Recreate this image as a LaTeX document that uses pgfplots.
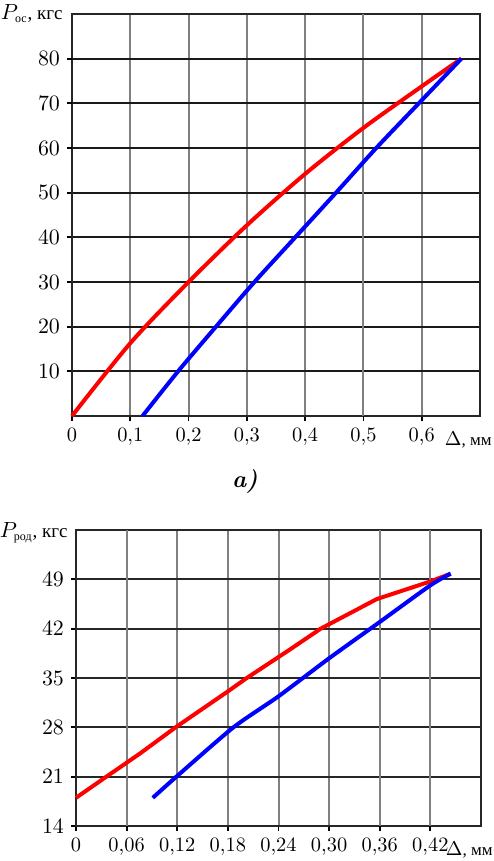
\documentclass[border=0pt]{standalone}
\usepackage{pgfplots}
\pgfplotsset{compat=1.18}
\usepackage{fontspec}
\newfontfamily\cyr{Liberation Serif}
\begin{document}
\begin{tikzpicture}
\useasboundingbox (-36pt,-222.5pt) rectangle (210.5pt,208pt);
\pgfplotsset{
  every axis/.append style={
    scale only axis,
    axis line style={black!85, line width=0.9pt},
    tick align=outside,
    major tick length=2.5pt,
    xtick pos=left, ytick pos=left,
    tick style={black, line width=0.9pt},
    grid=major,
    yticklabel style={font=\fontsize{10.8}{13}\selectfont},
    xticklabel style={font=\fontsize{10.2}{13}\selectfont},
    clip=false,
  }
}
% ---------- a) ----------
\begin{axis}[
  at={(0,0)}, anchor=south west,
  width=204pt, height=201pt,
  xmin=0, xmax=0.7, ymin=0, ymax=90,
  xtick={0,0.1,0.2,0.3,0.4,0.5,0.6},
  xticklabels={0,{0,1},{0,2},{0,3},{0,4},{0,5},{0,6}},
  ytick={10,20,30,40,50},
  extra y ticks={60,70,80},
  extra y tick style={grid style={black!60, line width=1pt}},
  extra x ticks={0.5},
  extra x tick labels={{}},
  extra x tick style={grid style={black!90, line width=0.9pt}},
  x grid style={black!50, line width=1pt},
  y grid style={black!90, line width=0.9pt},
]
\addplot[red, line width=2pt, smooth, tension=0.5] coordinates {
(0,0) (0.1,16.3) (0.2,30) (0.3,42.7) (0.4,54.2) (0.5,64.5) (0.6,73.8) (0.668,80)};
\addplot[blue, line width=2pt, smooth, tension=0.5] coordinates {
(0.121,0) (0.182,10) (0.247,20) (0.313,30) (0.383,40) (0.453,50)
(0.522,60) (0.595,70) (0.668,80)};
\node[anchor=base east, inner sep=0pt] at (rel axis cs:0,1) [xshift=-4.5pt, yshift=-2.5pt]
  {\fontsize{10.5}{13}\selectfont$P_{\mbox{\cyr\fontsize{6}{7}\selectfont ос}}$\cyr\fontsize{9.5}{12}\selectfont, кгс};
\node[anchor=base east, inner sep=0pt] at (rel axis cs:1,0) [xshift=6pt, yshift=-14.5pt]
  {\fontsize{10}{13}\selectfont$\Delta$\cyr\fontsize{8.5}{12}\selectfont, мм};
\node[anchor=base, inner sep=0pt] at (rel axis cs:0,0) [xshift=86.5pt, yshift=-35.5pt]
  {\fontsize{12}{14}\selectfont\bfseries\itshape a)};
\end{axis}
% ---------- b) ----------
\begin{axis}[
  at={(2pt,-205pt)}, anchor=south west,
  width=202.5pt, height=148pt,
  xmin=0, xmax=0.48, ymin=14, ymax=56,
  xtick={0,0.06,0.12,0.18,0.24,0.30,0.36,0.42},
  xticklabels={0,{0,06},{0,12},{0,18},{0,24},{0,30},{0,36},{0,42}},
  ytick={14,21,28,35,42,49},
  extra x ticks={0.06,0.36,0.42},
  extra x tick labels={{},{},{}},
  extra x tick style={grid style={black!90, line width=0.9pt}},
  x grid style={black!50, line width=1pt},
  y grid style={black!85, line width=0.9pt},
]
\addplot[red, line width=2pt, line join=round] coordinates {
(0,18) (0.036,21) (0.076,24.3) (0.118,28) (0.18,33.1) (0.2024,35) (0.253,39)
(0.29,42) (0.3565,46.2) (0.42,48.7) (0.444,49.8)};
\addplot[blue, line width=2pt, smooth, tension=0.4] coordinates {
(0.091,18) (0.119,21) (0.1866,28) (0.24,32.4) (0.30,37.8) (0.36,42.95)
(0.42,48.15) (0.444,49.8)};
\node[anchor=base east, inner sep=0pt] at (rel axis cs:0,1) [xshift=-4pt, yshift=-3.5pt]
  {\fontsize{10.5}{13}\selectfont$P_{\mbox{\cyr\fontsize{6}{7}\selectfont род}}$\cyr\fontsize{9.5}{12}\selectfont, кгс};
\node[anchor=base east, inner sep=0pt] at (rel axis cs:1,0) [xshift=6pt, yshift=-14.5pt]
  {\fontsize{10}{13}\selectfont$\Delta$\cyr\fontsize{8.5}{12}\selectfont, мм};
\end{axis}
\end{tikzpicture}
\end{document}
